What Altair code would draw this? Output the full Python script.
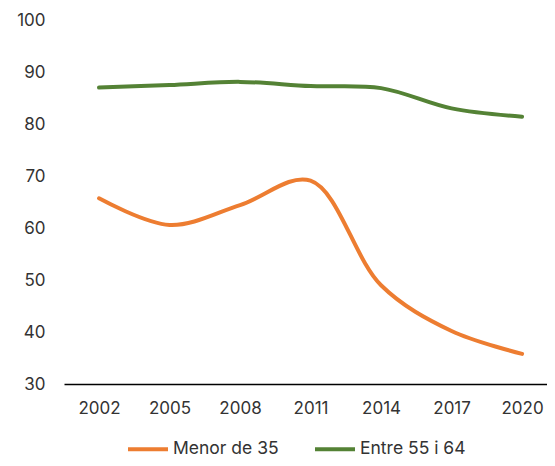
import altair as alt
import pandas as pd

years = [2002, 2005, 2008, 2011, 2014, 2017, 2020]
menor_35 = [65.7, 60.6, 64.4, 69.1, 49.0, 40.2, 35.8]
entre_55_64 = [87.0, 87.5, 88.1, 87.3, 86.9, 83.0, 81.4]
series_names = ["Menor de 35", "Entre 55 i 64"]
colors = ["#ED7D31", "#548235"]
y_ticks = [30, 40, 50, 60, 70, 80, 90, 100]

rows = []
for name, vals in zip(series_names, [menor_35, entre_55_64]):
    for yr, v in zip(years, vals):
        rows.append({"year": yr, "value": v, "series": name})
df = pd.DataFrame(rows)

chart = alt.Chart(df).mark_line(
    interpolate="catmull-rom", strokeWidth=4, strokeCap="round"
).encode(
    x=alt.X(
        "year:Q", scale=alt.Scale(domain=[2000.51, 2021.06], nice=False, zero=False),
        axis=alt.Axis(title=None, values=years, format="d", labelAngle=0, ticks=False,
                      grid=False, domainColor="#000000", domainWidth=1.5, labelPadding=16,
                      labelFontSize=17, labelColor="#333333", labelFlush=False),
    ),
    y=alt.Y(
        "value:Q", scale=alt.Scale(domain=[30, 100], nice=False, zero=False),
        axis=alt.Axis(title=None, values=y_ticks, domain=False, ticks=False, grid=False,
                      labelPadding=19, labelFontSize=17, labelColor="#333333"),
    ),
    color=alt.Color(
        "series:N", sort=series_names,
        scale=alt.Scale(domain=series_names, range=colors),
        legend=alt.Legend(title=None, orient="none", legendX=62, legendY=407,
                          direction="horizontal", symbolType="stroke", symbolSize=1600,
                          symbolStrokeWidth=4, labelFontSize=17.5, labelColor="#333333",
                          columnPadding=28, labelOffset=3, padding=0),
    ),
).properties(
    width=483, height=364,
    padding={"left": 56, "top": 12, "right": 0, "bottom": 74},
    autosize=alt.AutoSizeParams(type="none"),
).configure(font="Inter").configure_view(stroke=None)

chart.save("out.html", embed_options={"renderer": "svg", "actions": False})
